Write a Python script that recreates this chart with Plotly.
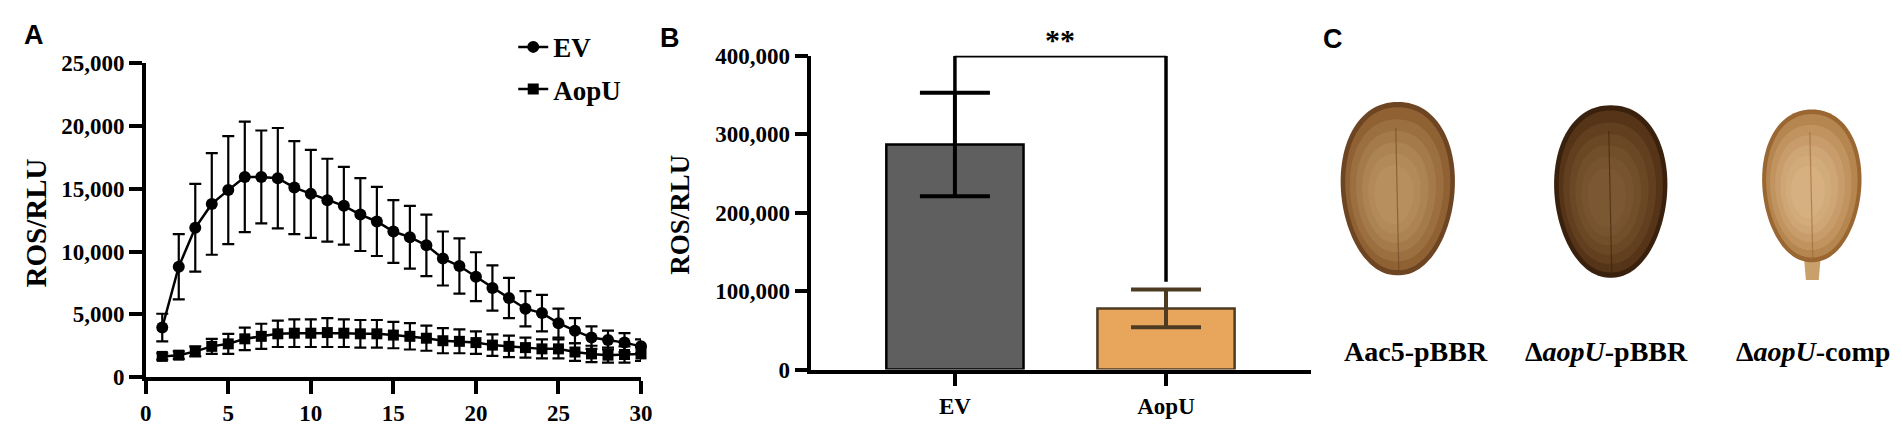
import numpy as np
import plotly.graph_objects as go

W, H = 1902, 433

# panel A: ROS time course
time_points = list(range(1, 31))
ev_mean = [3950, 8800, 11900, 13800, 14900, 15950, 15950, 15850, 15100, 14600,
           14100, 13650, 12950, 12400, 11600, 11150, 10500, 9450, 8850, 8000,
           7100, 6300, 5450, 5100, 4300, 3700, 3150, 2950, 2750, 2450]
ev_sd = [1100, 2600, 3500, 4050, 4300, 4400, 3700, 4000, 3700, 3500,
         3300, 3100, 2900, 2750, 2500, 2500, 2450, 2150, 2200, 1950,
         1800, 1600, 1400, 1450, 1150, 1000, 900, 750, 750, 550]
aopu_mean = [1650, 1750, 2050, 2450, 2650, 3050, 3250, 3450, 3500, 3500,
             3550, 3500, 3450, 3450, 3350, 3250, 3100, 2900, 2850, 2750,
             2550, 2450, 2350, 2250, 2250, 2000, 1850, 1750, 1800, 1850]
aopu_sd = [250, 300, 400, 600, 800, 900, 1000, 1050, 1100, 1100,
           1150, 1100, 1100, 1100, 1050, 1050, 1000, 1000, 950, 900,
           850, 850, 800, 750, 750, 700, 650, 600, 650, 550]

# panel B: total ROS
groups = ["EV", "AopU"]
total_mean = [287000, 78000]
total_sd = [66000, 24000]
sig_label = "**"

# panel C: leaf labels
leaf_labels = ["<b>Aac5-pBBR</b>", "<b>Δ<i>aopU</i>-pBBR</b>", "<b>Δ<i>aopU</i>-comp</b>"]

SERIF = "Liberation Serif"


def px(x):
    return x / W


def py(y):
    return 1 - y / H


def leaf_path(cx, cy, w, h, taper=0.08, n=120):
    # rounded egg outline, a little wider at the top
    t = np.linspace(0, 2 * np.pi, n)
    s = np.sign(np.sin(t)) * np.abs(np.sin(t)) ** 0.93
    xs = cx + (w / 2) * s * (1 + taper * np.cos(t))
    ys = cy - (h / 2) * np.cos(t)
    pts = [f"{px(a):.5f},{py(b):.5f}" for a, b in zip(xs, ys)]
    return "M " + " L ".join(pts) + " Z"


fig = go.Figure()

# ---- panel A
fig.add_trace(go.Scatter(
    x=time_points, y=ev_mean, name="EV", mode="lines+markers", legendgroup="ev",
    line=dict(color="black", width=2.5),
    marker=dict(symbol="circle", size=12, color="black"),
    error_y=dict(type="data", array=ev_sd, color="black", thickness=2.2, width=6),
    cliponaxis=False, xaxis="x", yaxis="y",
))
fig.add_trace(go.Scatter(
    x=time_points, y=aopu_mean, name="AopU", mode="lines+markers", legendgroup="aopu",
    line=dict(color="black", width=2.5),
    marker=dict(symbol="square", size=11, color="black"),
    error_y=dict(type="data", array=aopu_sd, color="black", thickness=2.2, width=6),
    cliponaxis=False, xaxis="x", yaxis="y",
))

# ---- panel B
bar_fill = ["#5f5f5f", "#e8a65d"]
bar_edge = ["#000000", "#4d3b22"]
for i, g in enumerate(groups):
    fig.add_trace(go.Bar(
        x=[i], y=[total_mean[i]], width=0.65, showlegend=False,
        marker=dict(color=bar_fill[i], line=dict(color=bar_edge[i], width=2.5)),
        error_y=dict(type="data", array=[total_sd[i]], color=bar_edge[i], thickness=4, width=35),
        xaxis="x2", yaxis="y2",
    ))

# significance bracket
bracket_top = 400000
left_end = total_mean[0] + total_sd[0]
right_end = total_mean[1] + total_sd[1] + 10000
for x0, y0, x1, y1 in [(0, left_end, 0, bracket_top), (0, bracket_top, 1, bracket_top),
                       (1, bracket_top, 1, right_end)]:
    fig.add_shape(type="line", xref="x2", yref="y2", x0=x0, y0=y0, x1=x1, y1=y1,
                  line=dict(color="black", width=3.5))
fig.add_annotation(x=0.5, y=bracket_top, xref="x2", yref="y2", text=f"<b>{sig_label}</b>",
                   showarrow=False, xanchor="center", yanchor="bottom", yshift=-2,
                   font=dict(family=SERIF, size=30, color="black"))

axis_common = dict(showline=True, linecolor="black", linewidth=3.5, ticks="outside",
                   ticklen=13, tickwidth=3.5, tickcolor="black", showgrid=False,
                   zeroline=False,
                   tickfont=dict(family=SERIF, size=23, color="black", weight="bold"))

fig.update_layout(
    xaxis=dict(domain=[px(133), px(633)], range=[0, 30], tickvals=[0, 5, 10, 15, 20, 25, 30],
               anchor="y", **axis_common),
    yaxis=dict(domain=[py(379), py(46)], range=[0, 25000], tickvals=[0, 5000, 10000, 15000, 20000, 25000],
               tickformat=",", anchor="x", **axis_common),
    xaxis2=dict(domain=[px(805), px(1309)], range=[-0.68, 1.685], tickvals=[0, 1], ticktext=groups,
                anchor="y2", **axis_common),
    yaxis2=dict(domain=[py(371), py(38)], range=[0, 400000],
                tickvals=[0, 100000, 200000, 300000, 400000], tickformat=",", anchor="x2", **axis_common),
)

# axis titles and panel letters
for xc, yc, fs in [(22, 215, 29), (672, 207, 27)]:
    fig.add_annotation(x=px(xc), y=py(yc), xref="paper", yref="paper", text="<b>ROS/RLU</b>",
                       textangle=-90, showarrow=False, xanchor="center", yanchor="middle",
                       font=dict(family=SERIF, size=fs, color="black"))
for letter, xc, yc in [("A", 20, 16), ("B", 662, 19), ("C", 1332, 20)]:
    fig.add_annotation(x=px(xc), y=py(yc), xref="paper", yref="paper", text=f"<b>{letter}</b>",
                       showarrow=False, xanchor="center", yanchor="middle",
                       font=dict(family="Liberation Sans", size=27, color="black"))

# ---- panel C: leaf sketches standing in for the photographs
leaves = [
    dict(cx=1397, cy=179, w=115, h=184, cols=["#6e4522", "#8f6133", "#caa274"], label_x=1415),
    dict(cx=1612, cy=182, w=114, h=183, cols=["#3a210d", "#553417", "#8c683e"], label_x=1608),
    dict(cx=1815, cy=176, w=100, h=162, cols=["#9a6632", "#b68650", "#e2c594"], label_x=1816),
]
for k, (lf, lab) in enumerate(zip(leaves, leaf_labels)):
    if k == 2:
        fig.add_shape(type="path", xref="paper", yref="paper",
                      path=(f"M {px(lf['cx'] - 8):.5f},{py(lf['cy'] + lf['h'] / 2 - 6):.5f} "
                            f"L {px(lf['cx'] - 6):.5f},{py(276):.5f} L {px(lf['cx'] + 7):.5f},{py(276):.5f} "
                            f"L {px(lf['cx'] + 9):.5f},{py(lf['cy'] + lf['h'] / 2 - 6):.5f} Z"),
                      fillcolor="#c9a06a", line=dict(width=0), layer="below")
    fig.add_shape(type="path", xref="paper", yref="paper",
                  path=leaf_path(lf["cx"], lf["cy"], lf["w"], lf["h"]),
                  fillcolor=lf["cols"][0], line=dict(width=0), layer="below")
    fig.add_shape(type="path", xref="paper", yref="paper",
                  path=leaf_path(lf["cx"], lf["cy"], lf["w"] * 0.92, lf["h"] * 0.94),
                  fillcolor=lf["cols"][1], line=dict(width=0), layer="below")
    # soft lighter centre built from stacked translucent layers
    for scale in [0.82, 0.7, 0.58, 0.46, 0.34]:
        fig.add_shape(type="path", xref="paper", yref="paper",
                      path=leaf_path(lf["cx"] - (1 - scale) * 6, lf["cy"] + (1 - scale) * 10,
                                     lf["w"] * scale, lf["h"] * scale),
                      fillcolor=lf["cols"][2], opacity=0.22, line=dict(width=0), layer="below")
    fig.add_shape(type="line", xref="paper", yref="paper",
                  x0=px(lf["cx"] - 2), x1=px(lf["cx"] + 1),
                  y0=py(lf["cy"] - lf["h"] * 0.35), y1=py(lf["cy"] + lf["h"] * 0.47),
                  line=dict(color=lf["cols"][0], width=1.2), opacity=0.6, layer="below")
    fig.add_annotation(x=px(lf["label_x"]), y=py(352), xref="paper", yref="paper", text=lab,
                       showarrow=False, xanchor="center", yanchor="middle",
                       font=dict(family=SERIF, size=28, color="black"))

fig.update_layout(
    width=W, height=H,
    margin=dict(l=0, r=0, t=0, b=0),
    paper_bgcolor="white", plot_bgcolor="white",
    legend=dict(x=px(504), y=py(3), xanchor="left", yanchor="top",
                font=dict(family=SERIF, size=27, color="black", weight="bold"),
                bgcolor="rgba(0,0,0,0)", itemwidth=30,
                traceorder="grouped", tracegroupgap=4),
    barmode="overlay",
)

fig.write_html("out.html")
